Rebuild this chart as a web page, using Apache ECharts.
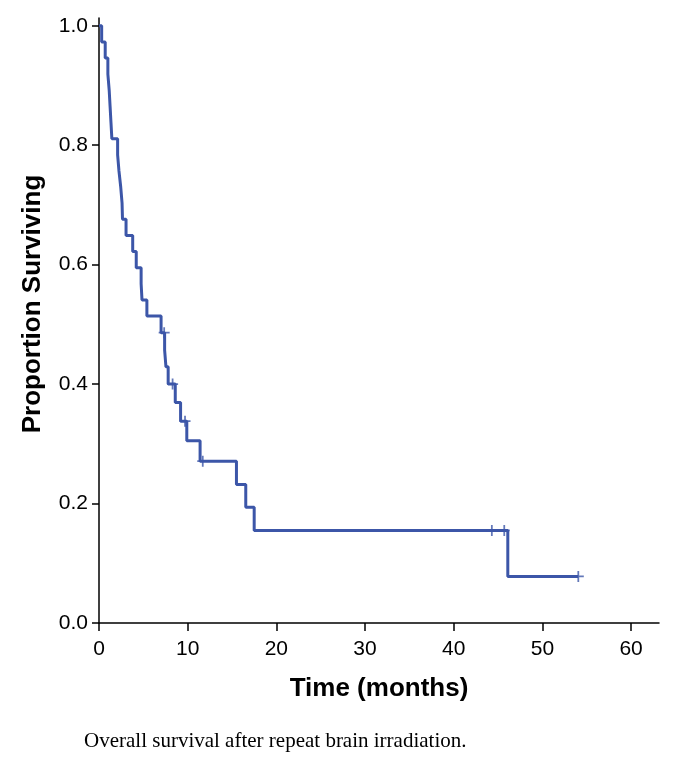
<!DOCTYPE html>
<html>
<head>
<meta charset="utf-8">
<script src="https://cdn.jsdelivr.net/npm/echarts@6/dist/echarts.min.js"></script>
<style>
html,body{margin:0;padding:0;background:#fff;}
#chart{width:685px;height:768px;}
</style>
</head>
<body>
<div id="chart"></div>
<script>
// Kaplan-Meier step points (time in months, proportion surviving after the event)
var eventTimes = [0, 0.3, 0.7, 1.0, 1.15, 1.25, 1.35, 1.45, 2.1, 2.25, 2.45, 2.6, 2.65, 3.05, 3.8, 4.2, 4.75, 4.85, 5.4, 7.0, 7.4, 7.55, 7.8, 8.6, 9.2, 9.9, 11.4, 15.5, 16.55, 17.5, 46.1, 54.05];
var survival   = [1.0, 0.973, 0.946, 0.919, 0.892, 0.865, 0.838, 0.811, 0.784, 0.757, 0.730, 0.703, 0.676, 0.649, 0.622, 0.595, 0.568, 0.541, 0.514, 0.486, 0.457, 0.429, 0.400, 0.369, 0.338, 0.305, 0.271, 0.232, 0.194, 0.155, 0.078, 0.078];
// Censored observations
var censorTimes = [7.35, 8.3, 9.7, 11.7, 44.3, 45.7, 54.05];
var censorSurv  = [0.486, 0.400, 0.338, 0.271, 0.155, 0.155, 0.078];
// Tick labels
var xTicks = [0, 10, 20, 30, 40, 50, 60];
var yTicks = [0, 0.2, 0.4, 0.6, 0.8, 1.0];

var lineColor = '#3c56a8';
var stepData = eventTimes.map(function (t, i) { return [t, survival[i]]; });
var censorData = censorTimes.map(function (t, i) { return [t, censorSurv[i]]; });

var chart = echarts.init(document.getElementById('chart'), null, {renderer: 'canvas'});
var option = {
  animation: false,
  backgroundColor: '#ffffff',
  grid: {left: 99, top: 18, right: 26, bottom: 145, containLabel: false},
  xAxis: {
    type: 'value', min: 0, max: 63.15,
    name: 'Time (months)', nameLocation: 'middle', nameGap: 53,
    nameTextStyle: {fontFamily: 'Liberation Sans, Arial, sans-serif', fontWeight: 'bold', fontSize: 26, color: '#000'},
    axisLine: {onZero: false, lineStyle: {color: '#000', width: 1.5}},
    axisTick: {show: true, length: 8, inside: false, customValues: xTicks, lineStyle: {color: '#000', width: 1.5}},
    axisLabel: {customValues: xTicks, margin: 16, fontFamily: 'Liberation Sans, Arial, sans-serif', fontSize: 21, color: '#000'},
    splitLine: {show: false}
  },
  yAxis: {
    type: 'value', min: 0, max: 1.013,
    axisLine: {show: true, onZero: false, lineStyle: {color: '#000', width: 1.5}},
    axisTick: {show: true, length: 7, inside: false, customValues: yTicks, lineStyle: {color: '#000', width: 1.5}},
    axisLabel: {customValues: yTicks, margin: 11, fontFamily: 'Liberation Sans, Arial, sans-serif', fontSize: 21, color: '#000',
      formatter: function (v) { return v.toFixed(1); }},
    splitLine: {show: false}
  },
  graphic: [
    {type: 'text', x: 33, y: 304, rotation: Math.PI / 2,
     style: {text: 'Proportion Surviving', fill: '#000', font: 'bold 26px "Liberation Sans", Arial, sans-serif',
             align: 'center', verticalAlign: 'middle'}},
    {type: 'text', x: 84, y: 741,
     style: {text: 'Overall survival after repeat brain irradiation.', fill: '#000',
             font: '21px "Liberation Serif", "Times New Roman", serif', align: 'left', verticalAlign: 'middle'}}
  ],
  series: [
    {type: 'line', data: stepData, step: 'end', showSymbol: false, symbol: 'none',
     lineStyle: {color: lineColor, width: 3}, z: 3},
    {type: 'scatter', data: censorData, symbol: 'path://M4.2,0H5.8V4.2H10V5.8H5.8V10H4.2V5.8H0V4.2H4.2Z', symbolSize: 11,
     itemStyle: {color: lineColor}, z: 4}
  ]
};
chart.setOption(option);
</script>
</body>
</html>
